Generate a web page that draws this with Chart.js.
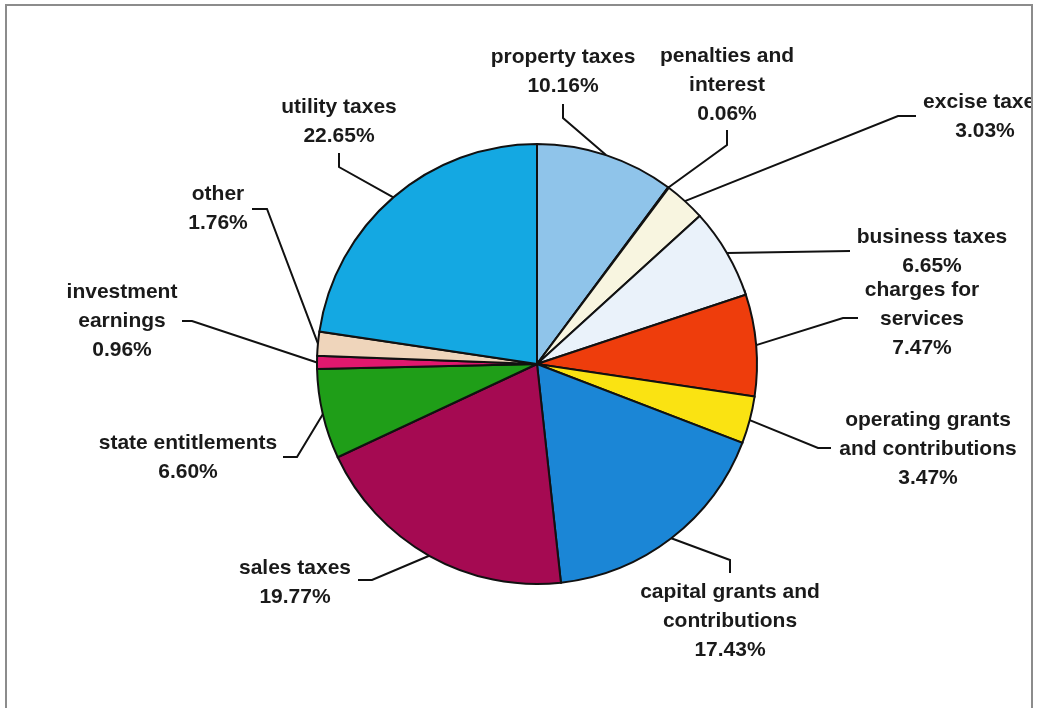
<!DOCTYPE html>
<html>
<head>
<meta charset="utf-8">
<script src="https://cdn.jsdelivr.net/npm/chart.js@4.4.1/dist/chart.umd.min.js"></script>
<style>
  html, body { margin: 0; padding: 0; background: #fff; }
  #wrap { width: 1037px; height: 708px; position: relative; }
</style>
</head>
<body>
<div id="wrap"><canvas id="pie"></canvas></div>
<script>
// Revenue sources, share of total (%), clockwise from 12 o'clock
const categories = [
  'property taxes', 'penalties and interest', 'excise taxes', 'business taxes',
  'charges for services', 'operating grants and contributions', 'capital grants and contributions',
  'sales taxes', 'state entitlements', 'investment earnings', 'other', 'utility taxes'
];
const shares = [10.16, 0.06, 3.03, 6.65, 7.47, 3.47, 17.43, 19.77, 6.60, 0.96, 1.76, 22.65];
const sliceColors = [
  '#8fc4ea', '#f4f0d8', '#f8f5e0', '#eaf2fa',
  '#ee3d0c', '#fae312', '#1b86d6',
  '#a50a52', '#1f9e18', '#e0186e', '#efd5bb', '#14a8e2'
];
// how each label is broken into lines
const labelLines = [
  ['property taxes'], ['penalties and', 'interest'], ['excise taxes'], ['business taxes'],
  ['charges for', 'services'], ['operating grants', 'and contributions'], ['capital grants and', 'contributions'],
  ['sales taxes'], ['state entitlements'], ['investment', 'earnings'], ['other'], ['utility taxes']
];

// label layout, offsets from the pie centre: text centre x, first baseline y, leader elbow, leader end
const labelLayout = [
  { tx: 26,   ty: -301, ex: 26,   ey: -246, fx: 26,   fy: -260 },
  { tx: 190,  ty: -302, ex: 190,  ey: -219, fx: 190,  fy: -234 },
  { tx: 448,  ty: -256, ex: 361,  ey: -248, fx: 379,  fy: -248 },
  { tx: 395,  ty: -121, ex: 313,  ey: -113, fx: 313,  fy: -113 },
  { tx: 385,  ty: -68,  ex: 306,  ey: -46,  fx: 321,  fy: -46 },
  { tx: 391,  ty: 62,   ex: 281,  ey: 84,   fx: 294,  fy: 84 },
  { tx: 193,  ty: 234,  ex: 193,  ey: 196,  fx: 193,  fy: 209 },
  { tx: -242, ty: 210,  ex: -165, ey: 216,  fx: -179, fy: 216 },
  { tx: -349, ty: 85,   ex: -240, ey: 93,   fx: -254, fy: 93 },
  { tx: -415, ty: -66,  ex: -345, ey: -43,  fx: -355, fy: -43 },
  { tx: -319, ty: -164, ex: -270, ey: -155, fx: -285, fy: -155 },
  { tx: -198, ty: -251, ex: -198, ey: -197, fx: -198, fy: -211 }
];
const lineGap = 29;

const frame = {
  id: 'frame',
  beforeDraw(chart) {
    const ctx = chart.ctx;
    ctx.save();
    ctx.strokeStyle = '#8c8c8c';
    ctx.lineWidth = 2;
    ctx.beginPath();
    ctx.moveTo(6, 708);
    ctx.lineTo(6, 5);
    ctx.lineTo(1032, 5);
    ctx.lineTo(1032, 708);
    ctx.stroke();
    ctx.restore();
  }
};

const leaderLabels = {
  id: 'leaderLabels',
  afterDatasetsDraw(chart) {
    const ctx = chart.ctx;
    const arcs = chart.getDatasetMeta(0).data;
    ctx.save();
    ctx.beginPath();
    ctx.rect(0, 0, 1031, 708);
    ctx.clip();
    arcs.forEach((arc, i) => {
      const { x, y, startAngle, endAngle, outerRadius } = arc.getProps(['x', 'y', 'startAngle', 'endAngle', 'outerRadius'], true);
      const mid = (startAngle + endAngle) / 2;
      const ax = x + Math.cos(mid) * outerRadius;
      const ay = y + Math.sin(mid) * outerRadius;
      const L = labelLayout[i];
      ctx.strokeStyle = '#111';
      ctx.lineWidth = 2;
      ctx.beginPath();
      ctx.moveTo(ax, ay);
      ctx.lineTo(x + L.ex, y + L.ey);
      ctx.lineTo(x + L.fx, y + L.fy);
      ctx.stroke();

      const lines = [...labelLines[i], shares[i].toFixed(2) + '%'];
      ctx.fillStyle = '#1a1a1a';
      ctx.font = 'bold 21px "Liberation Sans", Arial, sans-serif';
      ctx.textAlign = 'center';
      ctx.textBaseline = 'alphabetic';
      lines.forEach((t, k) => ctx.fillText(t, x + L.tx, y + L.ty + k * lineGap));
    });
    ctx.restore();
  }
};

new Chart(document.getElementById('pie'), {
  type: 'pie',
  data: {
    labels: categories,
    datasets: [{
      data: shares,
      backgroundColor: sliceColors,
      borderColor: '#111',
      borderWidth: 2,
      borderJoinStyle: 'miter'
    }]
  },
  options: {
    responsive: true,
    maintainAspectRatio: false,
    animation: false,
    layout: { padding: { left: 316, right: 279, top: 143, bottom: 123 } },
    plugins: { legend: { display: false }, tooltip: { enabled: false } }
  },
  plugins: [frame, leaderLabels]
});
</script>
</body>
</html>
